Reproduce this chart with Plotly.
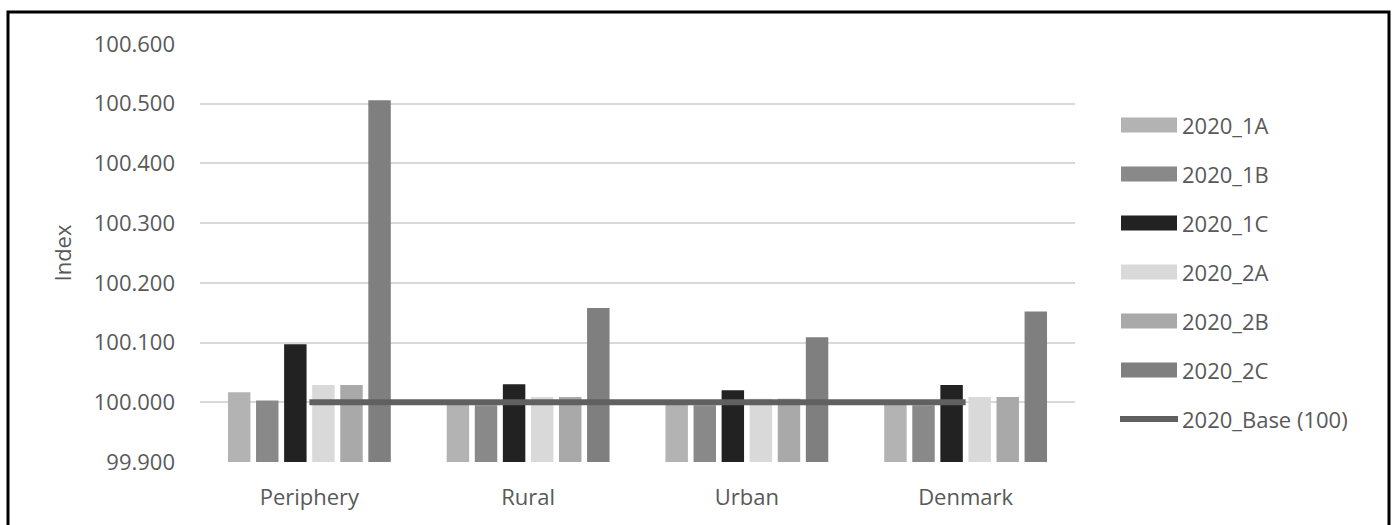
import plotly.graph_objects as go

# Regions on the x axis
categories = ["Periphery", "Rural", "Urban", "Denmark"]

# Scenario index values per region
s_2020_1a = [100.017, 99.996, 99.996, 99.996]
s_2020_1b = [100.003, 99.995, 99.995, 99.995]
s_2020_1c = [100.097, 100.030, 100.020, 100.029]
s_2020_2a = [100.029, 100.009, 100.006, 100.009]
s_2020_2b = [100.029, 100.009, 100.006, 100.009]
s_2020_2c = [100.506, 100.158, 100.109, 100.152]
base_2020 = [100.0, 100.0, 100.0, 100.0]

series_names = ["2020_1A", "2020_1B", "2020_1C", "2020_2A", "2020_2B", "2020_2C"]
series_values = [s_2020_1a, s_2020_1b, s_2020_1c, s_2020_2a, s_2020_2b, s_2020_2c]
series_colors = ["#b3b3b3", "#898989", "#222222", "#d9d9d9", "#a9a9a9", "#7f7f7f"]
base_name = "2020_Base (100)"
base_color = "#606060"

y_ticks = [99.9, 100.0, 100.1, 100.2, 100.3, 100.4, 100.5, 100.6]

FONT = "Open Sans"
TEXT = "#595959"
FS = 22

fig = go.Figure()
for name, vals, col in zip(series_names, series_values, series_colors):
    fig.add_trace(go.Bar(x=categories, y=vals, name=name, marker_color=col,
                         marker_line_width=0, showlegend=False))

fig.add_trace(go.Scatter(x=categories, y=base_2020, name=base_name, mode="lines",
                         line=dict(color=base_color, width=6), showlegend=False))

W, H = 1393, 525
L, R, T, B = 200, 318, 44, 63
pw, ph = W - L - R, H - T - B


def px_to_paper(xp, yp):
    return (xp - L) / pw, (H - B - yp) / ph


shapes = []
annotations = []

# outer frame
x0, y0 = px_to_paper(8, 12)
x1, y1 = px_to_paper(1389, 540)
shapes.append(dict(type="rect", xref="paper", yref="paper", x0=x0, y0=y1, x1=x1, y1=y0,
                   line=dict(color="#000000", width=3), fillcolor="rgba(0,0,0,0)"))

# legend on the right
leg_top = 125
leg_step = 49
for i, (name, col) in enumerate(zip(series_names, series_colors)):
    yc = leg_top + i * leg_step
    ax0, ay0 = px_to_paper(1121, yc - 7.5)
    ax1, ay1 = px_to_paper(1177, yc + 7.5)
    shapes.append(dict(type="rect", xref="paper", yref="paper", x0=ax0, x1=ax1,
                       y0=ay1, y1=ay0, line=dict(width=0), fillcolor=col))
    tx, ty = px_to_paper(1180, yc)
    annotations.append(dict(xref="paper", yref="paper", x=tx, y=ty, text=name,
                            showarrow=False, xanchor="left", yanchor="middle",
                            font=dict(family=FONT, size=FS, color=TEXT)))

yc = leg_top + len(series_names) * leg_step
lx0, ly = px_to_paper(1120, yc)
lx1, _ = px_to_paper(1178, yc)
shapes.append(dict(type="line", xref="paper", yref="paper", x0=lx0, x1=lx1, y0=ly, y1=ly,
                   line=dict(color=base_color, width=6)))
tx, ty = px_to_paper(1180, yc)
annotations.append(dict(xref="paper", yref="paper", x=tx, y=ty, text=base_name,
                        showarrow=False, xanchor="left", yanchor="middle",
                        font=dict(family=FONT, size=FS, color=TEXT)))

fig.update_layout(
    width=W, height=H,
    margin=dict(l=L, r=R, t=T, b=B, pad=0),
    paper_bgcolor="white", plot_bgcolor="white",
    barmode="group", bargap=0.23, bargroupgap=0.2,
    font=dict(family=FONT, size=FS, color=TEXT),
    shapes=shapes, annotations=annotations,
    showlegend=False,
)
fig.update_xaxes(showgrid=False, showline=False, ticks="", ticklabelstandoff=20,
                 tickfont=dict(family=FONT, size=FS, color=TEXT))
fig.update_yaxes(range=[99.9, 100.6], tickvals=y_ticks, tickformat=".3f",
                 showgrid=True, gridcolor="#d9d9d9", gridwidth=2, zeroline=False,
                 showline=False, ticks="", ticklabelstandoff=24,
                 tickfont=dict(family=FONT, size=FS, color=TEXT),
                 title=dict(text="Index", standoff=16,
                            font=dict(family=FONT, size=FS, color=TEXT)))

fig.write_html("out.html")
